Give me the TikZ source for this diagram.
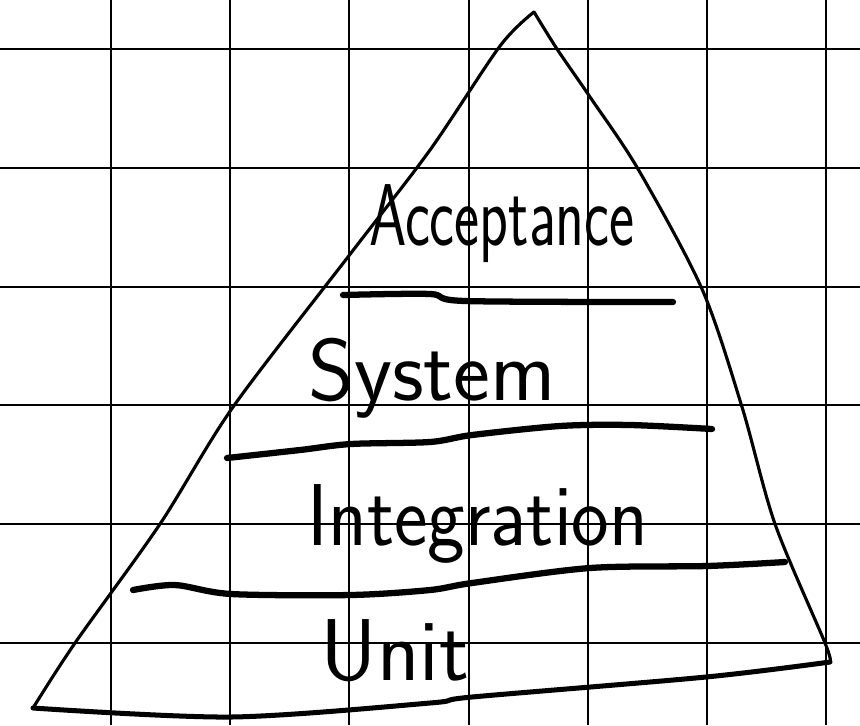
\documentclass[tikz,border=0pt]{standalone}
\usepackage{fontspec}
\usepackage{graphicx}
\usetikzlibrary{positioning}
\tikzset{
  gridline/.style  ={line width=0.5pt,black},
  sideline/.style  ={line width=0.75pt,black,line cap=round,line join=round},
  tierline/.style  ={line width=1.5pt,black,line cap=round,line join=round},
  baseline/.style  ={line width=1.2pt,black,line cap=round,line join=round},
  tierlabel/.style ={anchor=base,inner sep=0pt,font=\sffamily\fontsize{21}{25}\selectfont},
}
\begin{document}
\begin{tikzpicture}[x=0.008403cm,y=-0.008403cm]
\useasboundingbox (0,0) rectangle (860,725);
\fill[white] (0,0) rectangle (860,725);
% squared paper
\foreach \gx in {111,230,349,469,588,707,826} \draw[gridline] (\gx,0) -- (\gx,725);
\foreach \gy in {49,168,287,405,524,643} \draw[gridline] (0,\gy) -- (860,\gy);
% pyramid outline
\coordinate (apex) at (534,12);
\coordinate (lbase) at (33,708);
\coordinate (rbase) at (830,662);
\draw[sideline] plot[smooth,tension=0.5] coordinates
  {(apex) (500,46) (430,150) (351,253) (233,407) (160,524) (75,643) (lbase)};
\draw[sideline] plot[smooth,tension=0.5] coordinates
  {(apex) (557,49) (590,97) (638,169) (702,289) (742,407) (775,524) (825,643) (rbase)};
\draw[baseline] plot[smooth,tension=0.5] coordinates
  {(lbase) (231,717) (430,703) (472,697) (706,677) (rbase)};
% tiers
\draw[tierline] plot[smooth,tension=0.5] coordinates
  {(343,295) (430,294) (465,301) (673,302)};
\draw[tierline] plot[smooth,tension=0.5] coordinates
  {(227,458) (300,450) (351,444) (430,442) (472,435) (560,426) (630,425) (712,429)};
\draw[tierline] plot[smooth,tension=0.5] coordinates
  {(133,590) (175,585) (231,594) (351,595) (430,590) (472,583) (590,568) (707,566) (785,562)};
% labels
\node[tierlabel] (acc) at (502,245) {\scalebox{0.68}[1]{Acceptance}};
\node[tierlabel] (sys) at (432,400) {System};
\node[tierlabel] (integ) at (478,545) {\scalebox{0.91}[1]{Integration}};
\node[tierlabel] (unit) at (395,680) {Unit};
\end{tikzpicture}
\end{document}
